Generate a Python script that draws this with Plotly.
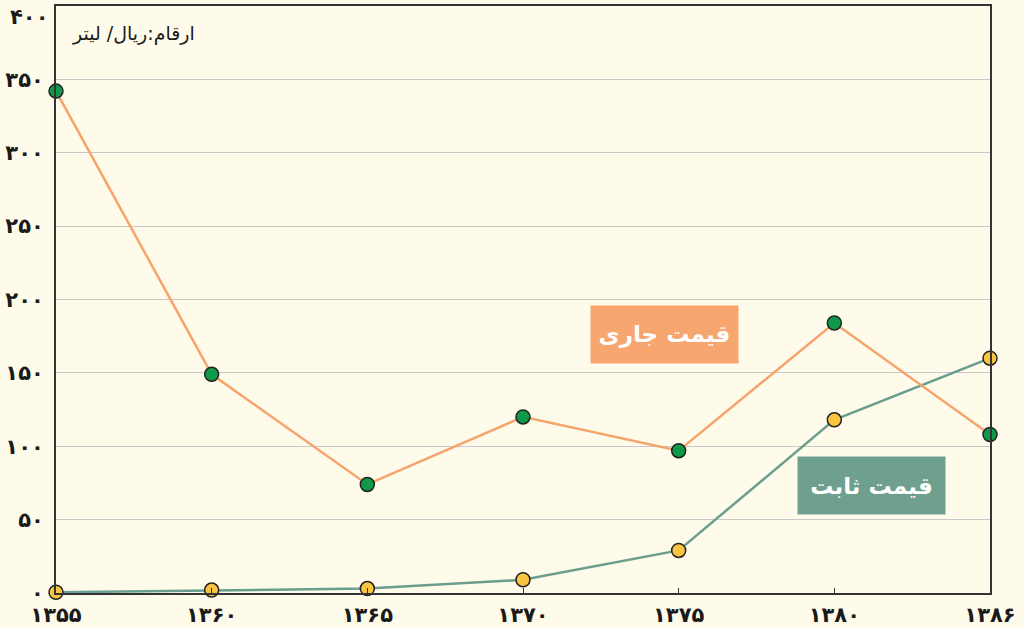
import plotly.graph_objects as go

years = ["۱۳۵۵", "۱۳۶۰", "۱۳۶۵", "۱۳۷۰", "۱۳۷۵", "۱۳۸۰", "۱۳۸۶"]
current_price = [342, 149, 74, 120, 97, 184, 108]   # قیمت جاری
constant_price = [0.5, 2, 3, 9, 29, 118, 160]       # قیمت ثابت
y_ticks = [0, 50, 100, 150, 200, 250, 300, 350, 400]
y_tick_text = ["۰", "۵۰", "۱۰۰", "۱۵۰", "۲۰۰", "۲۵۰", "۳۰۰", "۳۵۰", "۴۰۰"]

x_idx = list(range(len(years)))
BG = "#FFFBEA"
FONT = "DejaVu Sans"
TICKFONT = dict(size=21, family=FONT, color="#1a1a1a", weight="bold")

fig = go.Figure()
fig.add_trace(go.Scatter(
    x=x_idx, y=constant_price, mode="lines+markers",
    line=dict(color="#6A9E8E", width=2.5),
    marker=dict(size=14, color="#F9C440", line=dict(color="#222", width=1.5)),
    cliponaxis=False, showlegend=False, hoverinfo="skip"))
fig.add_trace(go.Scatter(
    x=x_idx, y=current_price, mode="lines+markers",
    line=dict(color="#F5A46C", width=2.5),
    marker=dict(size=14, color="#0E9A48", line=dict(color="#222", width=1.5)),
    cliponaxis=False, showlegend=False, hoverinfo="skip"))

fig.update_layout(
    width=1024, height=627,
    margin=dict(l=56, r=34, t=6, b=34, autoexpand=False),
    paper_bgcolor=BG, plot_bgcolor=BG,
    font=dict(family=FONT, color="#1a1a1a"),
    xaxis=dict(range=[0, 6], tickvals=x_idx, ticktext=years, automargin=False,
               showgrid=False, zeroline=False,
               showline=True, linecolor="#333", linewidth=2, mirror=True,
               ticks="inside", ticklen=5, tickcolor="#333",
               ticklabelstandoff=2, tickfont=TICKFONT),
    yaxis=dict(range=[0, 400], tickvals=y_ticks[:-1], ticktext=y_tick_text[:-1],
               automargin=False,
               showgrid=True, gridcolor="#C8C8C8", gridwidth=1, zeroline=False,
               showline=True, linecolor="#333", linewidth=2, mirror=True,
               ticks="", ticklabelstandoff=6, tickfont=TICKFONT),
    annotations=[
        # top y tick label (placed just inside the page edge)
        dict(xref="paper", yref="paper", x=0, y=1, xanchor="right", yanchor="top",
             xshift=-6, yshift=3, text=y_tick_text[-1], showarrow=False, font=TICKFONT),
        dict(xref="paper", yref="paper", x=0.015, y=0.953, xanchor="left", yanchor="middle",
             text="ارقام:ریال/ لیتر", showarrow=False,
             font=dict(size=19, family=FONT, color="#1a1a1a")),
        dict(xref="x", yref="y", x=3.91, y=176, text="<b>قیمت جاری</b>", showarrow=False,
             font=dict(size=23, family=FONT, color="white"),
             bgcolor="#F6A66E", width=145, height=55, align="center", valign="middle"),
        dict(xref="x", yref="y", x=5.24, y=73, text="<b>قیمت ثابت</b>", showarrow=False,
             font=dict(size=23, family=FONT, color="white"),
             bgcolor="#6F9F8F", width=145, height=55, align="center", valign="middle"),
    ],
)

fig.write_html("out.html", config={"displayModeBar": False},
               post_script="document.body.style.margin='0';document.body.style.overflow='hidden';")
